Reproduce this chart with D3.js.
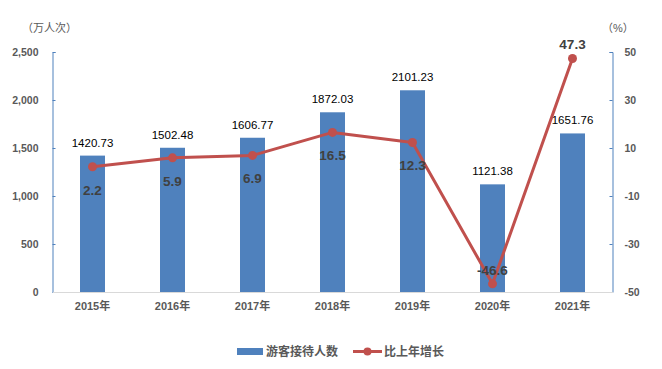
<!DOCTYPE html>
<html><head><meta charset="utf-8">
<script src="https://cdn.jsdelivr.net/npm/d3@7/dist/d3.min.js"></script>
<style>body{margin:0;background:#fff;} text{font-family:"Liberation Sans","Noto Sans CJK SC",sans-serif;}</style>
</head><body><svg id="c" width="662" height="369"></svg>
<script>
const years = ["2015年","2016年","2017年","2018年","2019年","2020年","2021年"];
const visitors = [1420.73,1502.48,1606.77,1872.03,2101.23,1121.38,1651.76];
const growth = [2.2,5.9,6.9,16.5,12.3,-46.6,47.3];
const leftTicks = [0,500,1000,1500,2000,2500];
const rightTicks = [-50,-30,-10,10,30,50];
const growthLabelAbove = [false,false,false,false,false,true,true];

const svg = d3.select("#c");
const L = 52.5, R = 612.5, T = 52, B = 292;
const x = d3.scaleBand().domain(years).range([L, R]).paddingInner(0.6875).paddingOuter(0.34375);
const yL = d3.scaleLinear().domain([0,2500]).range([B,T]);
const yR = d3.scaleLinear().domain([-50,50]).range([B,T]);
const gray = "#595959";

// axes
const gL = svg.append("g").attr("transform",`translate(${L},0)`)
  .call(d3.axisLeft(yL).tickValues(leftTicks).tickSize(-3).tickFormat(d3.format(",")).tickPadding(14));
gL.select(".domain").attr("stroke","#4F81BD");
gL.selectAll(".tick line").attr("stroke","#4F81BD");
gL.selectAll("text").attr("fill",gray).attr("font-size",10.5).attr("font-weight","bold");

const gR = svg.append("g").attr("transform",`translate(${R},0)`)
  .call(d3.axisRight(yR).tickValues(rightTicks).tickSize(-3).tickPadding(12).tickFormat(d=>String(d)));
gR.select(".domain").attr("stroke","#4F81BD");
gR.selectAll(".tick line").attr("stroke","#4F81BD");
gR.selectAll("text").attr("fill",gray).attr("font-size",10.5).attr("font-weight","bold");

// bars
svg.selectAll("rect.bar").data(visitors).enter().append("rect").attr("class","bar")
  .attr("x",(d,i)=>x(years[i])).attr("width",x.bandwidth())
  .attr("y",d=>yL(d)).attr("height",d=>B-yL(d)).attr("fill","#4F81BD");

// bottom axis
const gB = svg.append("g").attr("transform",`translate(0,${B})`)
  .call(d3.axisBottom(x).tickSize(0).tickPadding(10));
gB.select(".domain").attr("stroke","#D9D9D9");
gB.selectAll("text").attr("fill",gray).attr("font-size",11).attr("font-weight","bold");

// bar labels
svg.selectAll("text.bl").data(visitors).enter().append("text").attr("class","bl")
  .attr("x",(d,i)=>x(years[i])+x.bandwidth()/2).attr("y",d=>yL(d)-9)
  .attr("text-anchor","middle").attr("font-size",11.5).attr("fill","#000")
  .text(d=>d3.format(".2f")(d));

// line
const cx = (i)=>x(years[i])+x.bandwidth()/2;
const line = d3.line().x((d,i)=>cx(i)).y(d=>yR(d));
svg.append("path").datum(growth).attr("d",line).attr("fill","none")
  .attr("stroke","#C0504D").attr("stroke-width",3).attr("stroke-linejoin","round");
svg.selectAll("circle.pt").data(growth).enter().append("circle")
  .attr("cx",(d,i)=>cx(i)).attr("cy",d=>yR(d)).attr("r",4.5).attr("fill","#C0504D");
svg.selectAll("text.gl").data(growth).enter().append("text")
  .attr("x",(d,i)=>cx(i)).attr("y",(d,i)=>growthLabelAbove[i]? yR(d)-9 : yR(d)+28)
  .attr("text-anchor","middle").attr("font-size",13.5).attr("font-weight","bold").attr("fill","#404040")
  .text(d=>d);

// unit labels
svg.append("text").attr("x",22).attr("y",32).attr("font-size",11).attr("fill",gray).attr("font-family","Noto Sans CJK SC").text("（万人次）");
svg.append("text").attr("x",602).attr("y",32).attr("font-size",11).attr("fill",gray).attr("font-family","Noto Sans CJK SC").text("（%）");

// legend
svg.append("rect").attr("x",237).attr("y",348).attr("width",26).attr("height",7).attr("fill","#4F81BD");
svg.append("text").attr("x",266).attr("y",356).attr("font-size",12).attr("font-weight","bold").attr("fill",gray).attr("font-family","Noto Sans CJK SC").text("游客接待人数");
svg.append("line").attr("x1",353).attr("x2",382).attr("y1",351.5).attr("y2",351.5).attr("stroke","#C0504D").attr("stroke-width",3);
svg.append("circle").attr("cx",367.5).attr("cy",351.5).attr("r",4).attr("fill","#C0504D");
svg.append("text").attr("x",384).attr("y",356).attr("font-size",12).attr("font-weight","bold").attr("fill",gray).attr("font-family","Noto Sans CJK SC").text("比上年增长");
</script></body></html>
